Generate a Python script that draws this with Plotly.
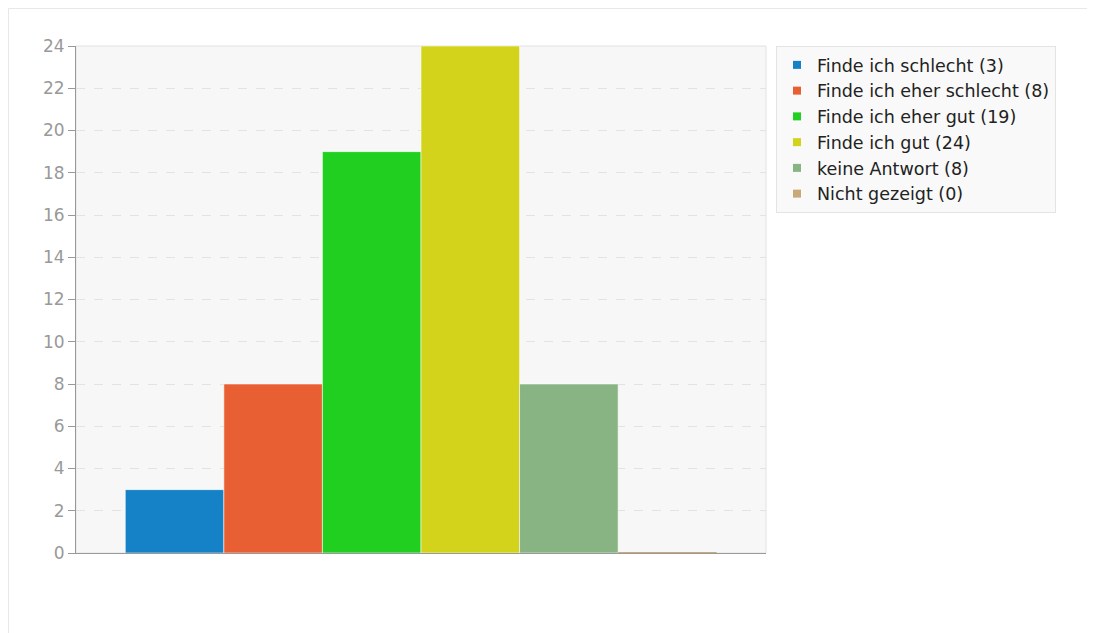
import plotly.graph_objects as go

categories = ["Finde ich schlecht", "Finde ich eher schlecht", "Finde ich eher gut",
              "Finde ich gut", "keine Antwort", "Nicht gezeigt"]
values = [3, 8, 19, 24, 8, 0]
colors = ["#1582c8", "#e85f33", "#21cf21", "#d3d31b", "#88b383", "#c9a97a"]
y_ticks = list(range(0, 25, 2))

fig = go.Figure()
for i, (cat, val, col) in enumerate(zip(categories, values, colors)):
    fig.add_trace(go.Bar(
        x=[i], y=[val], width=[1], marker=dict(color=col, line=dict(color="rgba(255,255,255,0.55)", width=1)),
        showlegend=False, hoverinfo="skip"))
    if val == 0:
        fig.add_trace(go.Scatter(x=[i - 0.5, i + 0.5], y=[val, val], mode="lines",
                                 line=dict(color=col, width=2), showlegend=False, hoverinfo="skip"))
for cat, val, col in zip(categories, values, colors):
    fig.add_trace(go.Scatter(x=[None], y=[None], mode="markers", name=f"{cat} ({val})",
                             marker=dict(symbol="square", size=8, color=col)))

L, R, T, B = 68, 337, 38, 88
W, H = 1095, 633
pw, ph = W - L - R, H - T - B

fig.update_layout(
    width=W, height=H,
    margin=dict(l=L, r=R, t=T, b=B),
    paper_bgcolor="white", plot_bgcolor="#f7f7f7",
    font=dict(family="DejaVu Sans", color="#222"),
    barmode="overlay",
    xaxis=dict(range=[-1, 6], showticklabels=False, showgrid=False, zeroline=False,
               showline=True, linecolor="#999", linewidth=1, mirror=False, ticks=""),
    yaxis=dict(range=[0, 24], tickvals=y_ticks, ticks="outside", ticklen=7, tickcolor="#999",
               tickfont=dict(size=17, color="#999"), showline=True, linecolor="#999", linewidth=1,
               showgrid=True, gridcolor="#e3e3e3", griddash="dash", gridwidth=1, zeroline=False),
    legend=dict(x=(768 - L) / pw, y=1.0, xanchor="left", yanchor="top", bgcolor="#f9f9f9",
                bordercolor="#e4e4e4", borderwidth=1, font=dict(size=17.5, color="#222"),
                itemwidth=30, tracegroupgap=0),
    shapes=[
        dict(type="rect", xref="paper", yref="paper", x0=-(L - 0.5) / pw, x1=1.6,
             y0=-0.3, y1=1 + (T - 0.5) / ph,
             line=dict(color="#e8e8e8", width=1), fillcolor="rgba(0,0,0,0)", layer="below"),
        dict(type="rect", xref="paper", yref="paper", x0=0, x1=1, y0=0, y1=1,
             line=dict(color="#e2e2e2", width=1), fillcolor="rgba(0,0,0,0)", layer="below"),
    ],
)
fig.write_html("out.html")
